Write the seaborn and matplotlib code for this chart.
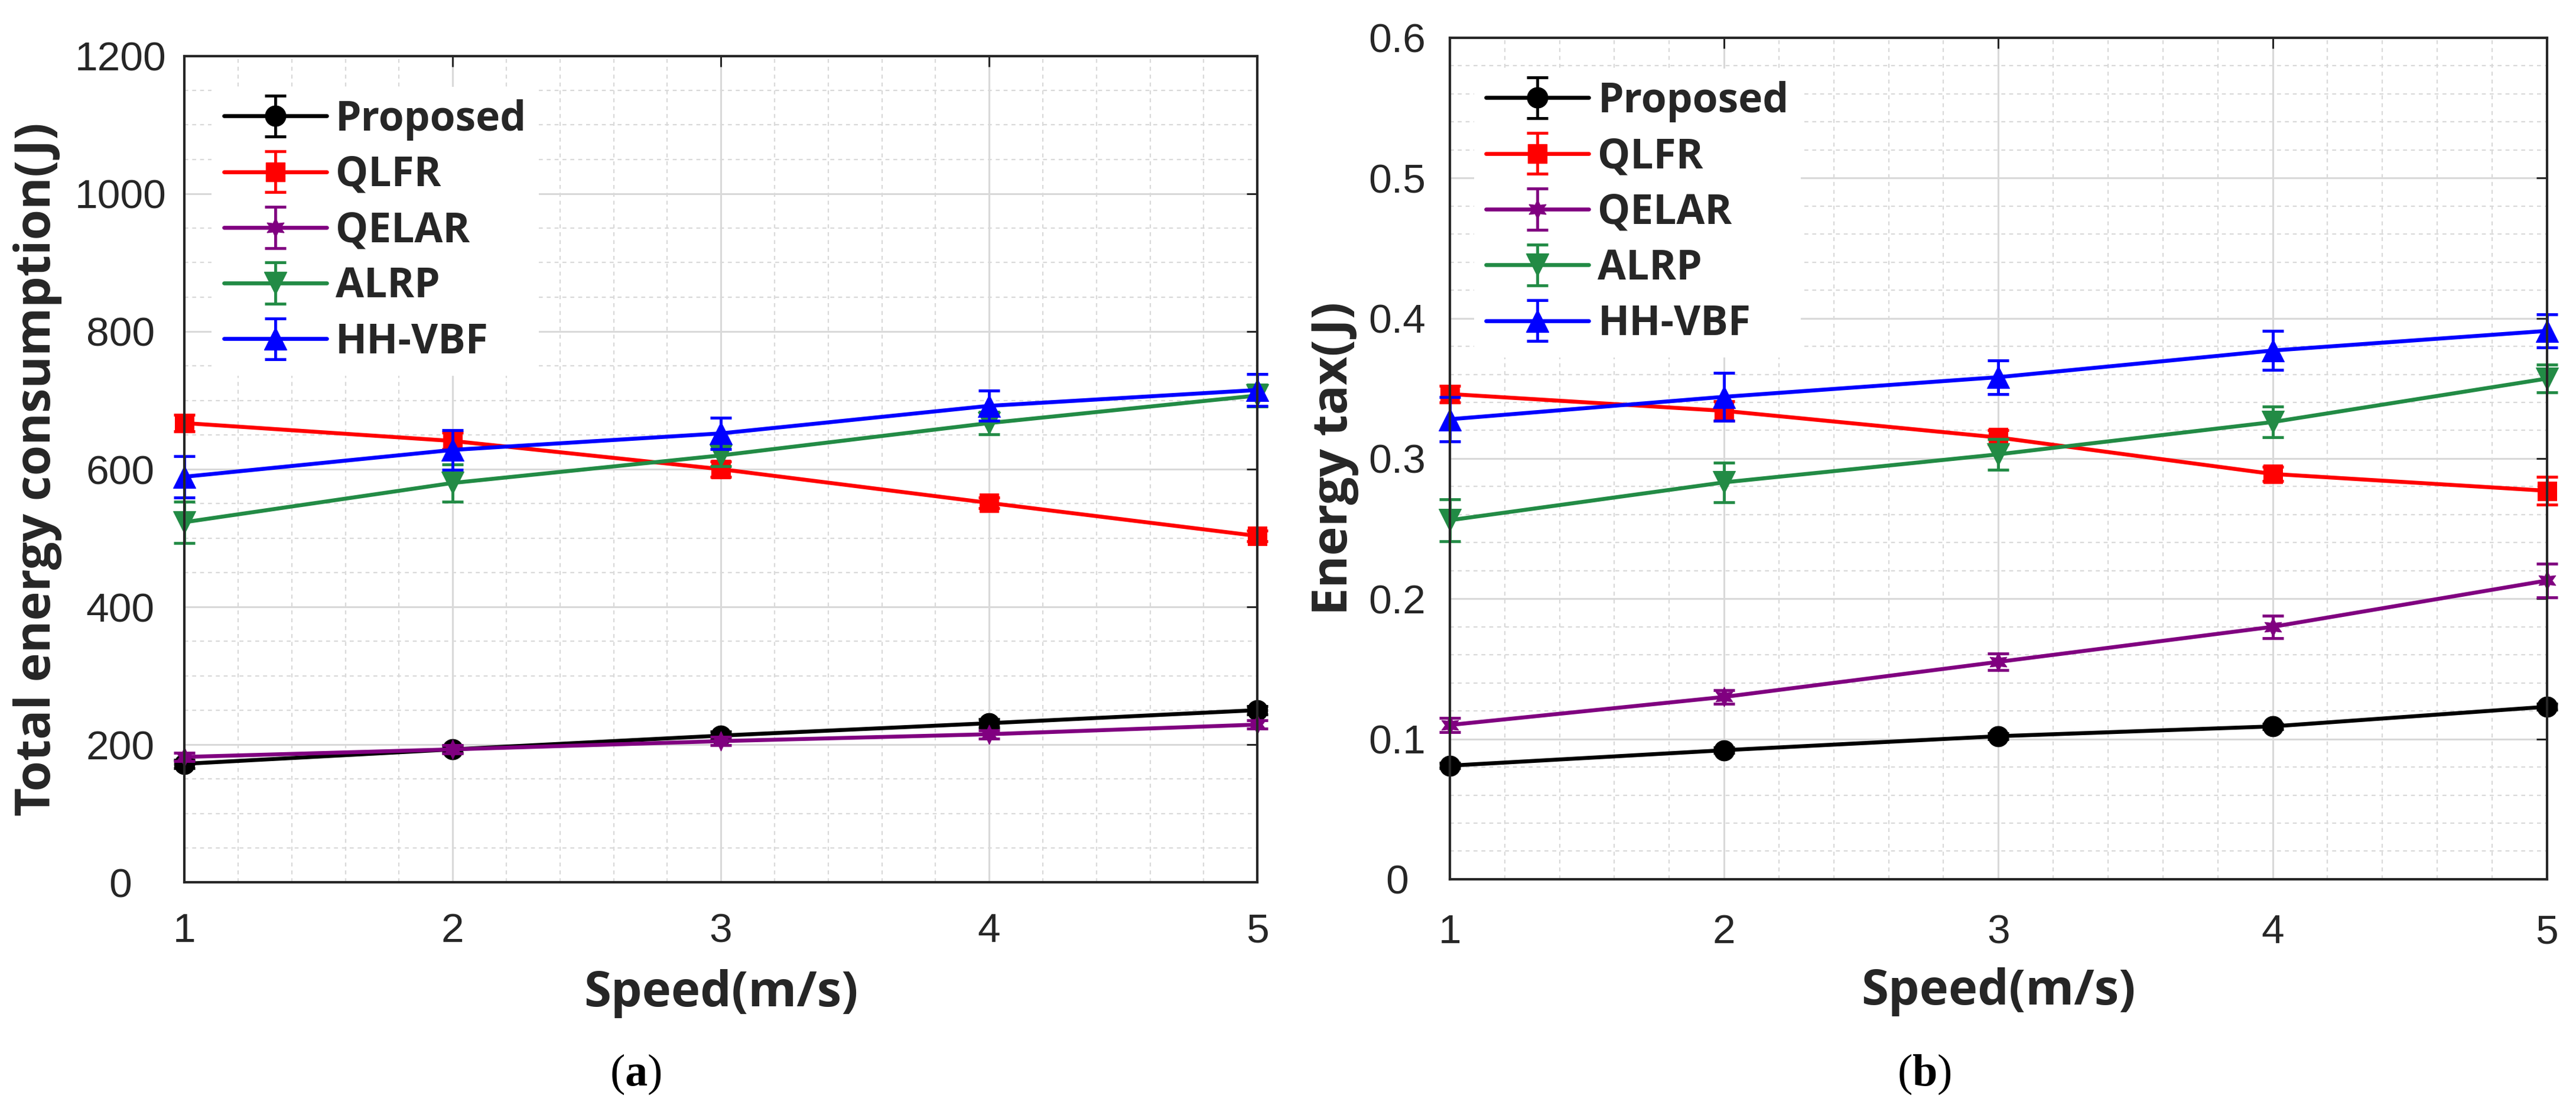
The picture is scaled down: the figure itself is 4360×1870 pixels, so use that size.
import numpy as np
import pandas as pd
import matplotlib
matplotlib.use("Agg")
import matplotlib.pyplot as plt
from matplotlib.ticker import AutoMinorLocator
import seaborn as sns

speed = [1, 2, 3, 4, 5]
methods = ["Proposed", "QLFR", "QELAR", "ALRP", "HH-VBF"]

# (a) total energy consumption (J)
energyProposed = [172, 193, 213, 231, 250]
energyQLFR = [667, 641, 600, 551, 503]
energyQELAR = [182, 193, 205, 215, 229]
energyALRP = [523, 580, 620, 667, 707]
energyHHVBF = [589, 628, 652, 692, 715]

energyProposedErr = [6, 5, 6, 6, 6]
energyQLFRErr = [12, 12, 11, 8, 8]
energyQELARErr = [6, 6, 6, 6, 6]
energyALRPErr = [30, 27, 16, 16, 16]
energyHHVBFErr = [30, 29, 23, 22, 23]

# (b) energy tax (J)
taxProposed = [0.081, 0.092, 0.102, 0.109, 0.123]
taxQLFR = [0.346, 0.334, 0.315, 0.289, 0.277]
taxQELAR = [0.110, 0.130, 0.155, 0.180, 0.213]
taxALRP = [0.256, 0.283, 0.303, 0.326, 0.357]
taxHHVBF = [0.328, 0.344, 0.358, 0.377, 0.391]

taxProposedErr = [0.002, 0.002, 0.002, 0.002, 0.002]
taxQLFRErr = [0.006, 0.007, 0.005, 0.005, 0.010]
taxQELARErr = [0.005, 0.005, 0.006, 0.008, 0.012]
taxALRPErr = [0.015, 0.014, 0.011, 0.011, 0.010]
taxHHVBFErr = [0.016, 0.017, 0.012, 0.014, 0.012]

energyTicks = [0, 200, 400, 600, 800, 1000, 1200]
energyTickLabels = ["0", "200", "400", "600", "800", "1000", "1200"]
taxTicks = [0, 0.1, 0.2, 0.3, 0.4, 0.5, 0.6]
taxTickLabels = ["0", "0.1", "0.2", "0.3", "0.4", "0.5", "0.6"]

sns.set_theme(style="whitegrid")
plt.rcParams["font.family"] = ["Liberation Sans", "DejaVu Sans"]
plt.rcParams["mathtext.fontset"] = "custom"
plt.rcParams["mathtext.rm"] = "Liberation Serif"
plt.rcParams["mathtext.bf"] = "Liberation Serif:bold"

colors = ["#000000", "#ff0000", "#800080", "#228b45", "#0000ff"]
markers = ["o", "s", (6, 1, 0), "v", "^"]
markerSizes = [25, 23, 24, 28, 28]
dark = "#262626"
labelFont = {"family": ["Open Sans", "DejaVu Sans"], "weight": "bold", "size": 60}
legendFont = {"family": ["Open Sans", "DejaVu Sans"], "weight": "bold", "size": 50}


def drawPanel(ax, series, errors, ylim, yticks, ytickLabels, yminor, ylabel,
              ylabelX, ytickPad, xtickPad, legendAnchor):
    handles = []
    for i, name in enumerate(methods):
        df = pd.DataFrame({"speed": speed, "value": series[i]})
        ax.errorbar(speed, series[i], yerr=errors[i], fmt="none",
                    ecolor=colors[i], elinewidth=3.5, capsize=13, capthick=3.5,
                    clip_on=False, zorder=3 + i)
        sns.lineplot(data=df, x="speed", y="value", ax=ax, color=colors[i],
                     marker=markers[i], markersize=markerSizes[i],
                     markeredgecolor=colors[i], linewidth=4.8, errorbar=None,
                     legend=False, clip_on=False, zorder=3 + i)
        # proxy for the legend entry (line + marker + error bar)
        h = ax.errorbar([np.nan], [np.nan], yerr=[np.nan], color=colors[i],
                        marker=markers[i], markersize=markerSizes[i],
                        linewidth=4.8, elinewidth=3.5, capsize=13, capthick=3.5)
        handles.append(h)

    ax.set_xlim(1, 5)
    ax.set_xticks(speed)
    ax.set_xticklabels([str(s) for s in speed])
    ax.set_ylim(*ylim)
    ax.set_yticks(yticks)
    ax.set_yticklabels(ytickLabels)
    ax.xaxis.set_minor_locator(AutoMinorLocator(5))
    ax.yaxis.set_minor_locator(AutoMinorLocator(yminor))

    ax.set_axisbelow(True)
    ax.grid(True, which="major", color="#d9d9d9", linewidth=2.2, linestyle="-")
    ax.grid(True, which="minor", color="#d9d9d9", linewidth=1.6,
            linestyle=(0, (3, 3)))

    ax.tick_params(which="major", direction="in", length=13, width=2.2,
                   color=dark, top=True, right=True, labelsize=50,
                   labelcolor=dark)
    ax.tick_params(which="minor", length=0)
    ax.tick_params(axis="y", pad=ytickPad)
    ax.tick_params(axis="x", pad=xtickPad)
    plt.setp(ax.get_yticklabels(), ha="center")

    for s in ax.spines.values():
        s.set_visible(True)
        s.set_color(dark)
        s.set_linewidth(3)
        s.set_zorder(10)

    ax.set_xlabel("Speed(m/s)", fontdict=labelFont, color=dark)
    ax.set_ylabel(ylabel, fontdict=labelFont, color=dark)
    ax.xaxis.set_label_coords(0.5, -0.105)
    ax.yaxis.set_label_coords(ylabelX, 0.5)

    ax.legend(handles, methods, loc="upper left", bbox_to_anchor=legendAnchor,
              borderaxespad=0, frameon=True, fancybox=False, edgecolor="none",
              facecolor="white", framealpha=1, prop=legendFont,
              handlelength=2.5, handletextpad=0.22, labelspacing=0.35,
              borderpad=0.3)


fig = plt.figure(figsize=(43.6, 18.7), dpi=100)
fig.patch.set_facecolor("white")
axA = fig.add_axes([0.0716, 0.2016, 0.4165, 0.7476])
axB = fig.add_axes([0.5628, 0.2043, 0.4259, 0.7615])

drawPanel(axA,
          [energyProposed, energyQLFR, energyQELAR, energyALRP, energyHHVBF],
          [energyProposedErr, energyQLFRErr, energyQELARErr, energyALRPErr,
           energyHHVBFErr],
          (0, 1200), energyTicks, energyTickLabels, 4,
          "Total energy consumption(J)", -0.114, 78, 37, (0.0253, 0.963))
drawPanel(axB,
          [taxProposed, taxQLFR, taxQELAR, taxALRP, taxHHVBF],
          [taxProposedErr, taxQLFRErr, taxQELARErr, taxALRPErr, taxHHVBFErr],
          (0, 0.6), taxTicks, taxTickLabels, 5,
          "Energy tax(J)", -0.083, 64, 42, (0.022, 0.9635))

fig.text(0.2468, 0.0278, r"$(\mathbf{a})$", ha="center", va="center",
         fontsize=55, color="black")
fig.text(0.747, 0.0278, r"$(\mathbf{b})$", ha="center", va="center",
         fontsize=55, color="black")

fig.savefig("out.png", dpi=100, facecolor="white")
